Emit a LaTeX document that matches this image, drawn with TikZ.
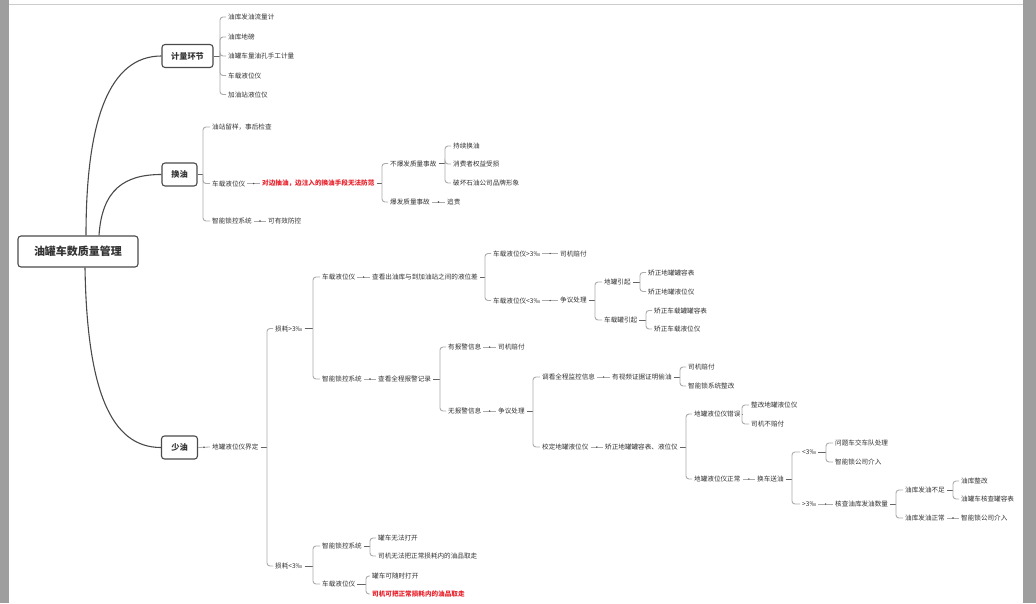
\documentclass[tikz,border=0pt]{standalone}
\usepackage{fontspec}
\setmainfont{Noto Sans CJK SC}
\usetikzlibrary{calc}
\definecolor{mmline}{HTML}{4A4A4A}
\definecolor{mmspine}{HTML}{ABABAB}
\definecolor{mmtext}{HTML}{333333}
\definecolor{mmred}{HTML}{E8202A}
\definecolor{mmframe}{HTML}{9E9E9E}
\tikzset{
  topic/.style={draw=mmline,fill=white,rounded corners=3pt,line width=1.1pt,font=\fontsize{8.2}{9}\selectfont\bfseries,text=mmtext,inner sep=0pt},
  leaf/.style={anchor=west,inner xsep=2pt,inner ysep=1pt,font=\fontsize{6.6}{7}\selectfont,text=mmtext},
  alert/.style={leaf,text=mmred,font=\fontsize{6.6}{7}\selectfont\bfseries},
  main/.style={draw=mmline,line width=1.1pt},
  trunk/.style={draw=mmline!85,line width=.6pt},
  spine/.style={draw=mmspine,line width=.9pt,rounded corners=3pt},
  thin/.style={draw=mmspine,line width=.8pt},
  dot/.style={circle,fill=mmline,inner sep=0pt,minimum size=1.6pt},
}
% parent -> spine at x -> children
\newcommand\fork[3]{%
  \coordinate (fk) at (#2,0);
  \draw[trunk] (#1.east) -- (#1.east -| fk);
  \foreach \kid in {#3} \draw[spine] (#1.east -| fk) |- (\kid.west);
}
% one parent, one child
\newcommand\link[2]{\draw[thin] (#1.east) -- node[dot]{} (#2.west);}

\begin{document}
\begin{tikzpicture}[x=1pt,y=-1pt]
  \useasboundingbox (0,0) rectangle (1036,603);
  \fill[white] (0,0) rectangle (1036,603);
  \fill[mmframe] (0,0) rectangle (9,603);
  \fill[mmframe] (1023,0) rectangle (1036,603);
  \draw[black!20,line width=1pt] (9,4) -- (1023,4);

  % ---------------- main topics ----------------
  \node[topic,minimum width=120pt,minimum height=31pt,font=\fontsize{11}{12}\selectfont\bfseries] (root) at (78,251.5) {油罐车数质量管理};
  \node[topic,minimum width=51pt,minimum height=23pt] (jl) at (187.5,56) {计量环节};
  \node[topic,minimum width=35pt,minimum height=23pt] (hy) at (179.5,174.5) {换油};
  \node[topic,minimum width=36pt,minimum height=23pt] (sy) at (179.5,447.5) {少油};

  \draw[main] ([xshift=8pt]root.north) .. controls +(0,-116) and +(-52,0) .. (jl.west);
  \draw[main] ([xshift=21pt]root.north) .. controls +(3,-46) and +(-37,0) .. (hy.west);
  \draw[main] ([xshift=7pt]root.south) .. controls +(2,123) and +(-50,0) .. (sy.west);

  % ---------------- 计量环节 ----------------
  \node[leaf] (jl1) at (226,17) {油库发油流量计};
  \node[leaf] (jl2) at (226,37) {油库地磅};
  \node[leaf] (jl3) at (226,56) {油罐车量油孔手工计量};
  \node[leaf] (jl4) at (226,75.5) {车载液位仪};
  \node[leaf] (jl5) at (226,94.5) {加油站液位仪};
  \fork{jl}{220}{jl1,jl2,jl3,jl4,jl5}

  % ---------------- 换油 ----------------
  \node[leaf] (hy1) at (210,127) {油站留样，事后检查};
  \node[leaf] (hy2) at (210,183.5) {车载液位仪};
  \node[leaf] (hy3) at (210,221) {智能锁控系统};
  \fork{hy}{203}{hy1,hy2,hy3}
  \node[alert] (hy21) at (260,183.5) {对边抽油，边注入的换油手段无法防范};
  \link{hy2}{hy21}
  \node[leaf] (hy211) at (388,163.5) {不爆发质量事故};
  \node[leaf] (hy212) at (388,202) {爆发质量事故};
  \fork{hy21}{382}{hy211,hy212}
  \node[leaf] (hy2111) at (451,146) {持续换油};
  \node[leaf] (hy2112) at (451,164) {消费者权益受损};
  \node[leaf] (hy2113) at (451,183) {破坏石油公司品牌形象};
  \fork{hy211}{445}{hy2111,hy2112,hy2113}
  \node[leaf] (hy2121) at (445,202) {追责};
  \link{hy212}{hy2121}
  \node[leaf] (hy31) at (266,221) {可有效防控};
  \link{hy3}{hy31}

  % ---------------- 少油 ----------------
  \node[leaf] (sy1) at (210,447) {地罐液位仪界定};
  \link{sy}{sy1}
  \node[leaf] (sy11) at (273,328.5) {损耗>3‰};
  \node[leaf] (sy12) at (273,566) {损耗<3‰};
  \fork{sy1}{267}{sy11,sy12}

  % 损耗>3‰, 车载液位仪
  \node[leaf] (ld) at (320,277) {车载液位仪};
  \node[leaf] (lz) at (320,379) {智能锁控系统};
  \fork{sy11}{313}{ld,lz}
  \node[leaf] (ldc) at (370,277) {查看出油库与到加油站之间的液位差};
  \link{ld}{ldc}
  \node[leaf] (ldh) at (491,253.5) {车载液位仪>3‰};
  \node[leaf] (ldl) at (491,300.5) {车载液位仪<3‰};
  \fork{ldc}{485}{ldh,ldl}
  \node[leaf] (ldhp) at (558,253.5) {司机赔付};
  \link{ldh}{ldhp}
  \node[leaf] (ldld) at (558,300.5) {争议处理};
  \link{ldl}{ldld}
  \node[leaf] (dg) at (602,282) {地罐引起};
  \node[leaf] (cg) at (602,320) {车载罐引起};
  \fork{ldld}{595}{dg,cg}
  \node[leaf] (dg1) at (646,272.5) {矫正地罐罐容表};
  \node[leaf] (dg2) at (646,291.5) {矫正地罐液位仪};
  \fork{dg}{640}{dg1,dg2}
  \node[leaf] (cg1) at (652,310.5) {矫正车载罐罐容表};
  \node[leaf] (cg2) at (652,329) {矫正车载液位仪};
  \fork{cg}{646}{cg1,cg2}

  % 损耗>3‰, 智能锁控系统
  \node[leaf] (lzc) at (376,379) {查看全程报警记录};
  \link{lz}{lzc}
  \node[leaf] (bj) at (446,347) {有报警信息};
  \node[leaf] (nb) at (446,411) {无报警信息};
  \fork{lzc}{440}{bj,nb}
  \node[leaf] (bjp) at (496,347) {司机赔付};
  \link{bj}{bjp}
  \node[leaf] (nbd) at (496,411) {争议处理};
  \link{nb}{nbd}
  \node[leaf] (jk) at (540,377) {调看全程监控信息};
  \node[leaf] (jd) at (540,447) {校定地罐液位仪};
  \fork{nbd}{533}{jk,jd}
  \node[leaf] (jkv) at (610,377) {有视频证据证明偷油};
  \link{jk}{jkv}
  \node[leaf] (jkv1) at (686,367) {司机赔付};
  \node[leaf] (jkv2) at (686,386) {智能锁系统整改};
  \fork{jkv}{680}{jkv1,jkv2}
  \node[leaf] (jdr) at (603,447) {矫正地罐罐容表、液位仪};
  \link{jd}{jdr}
  \node[leaf] (dw) at (692,414) {地罐液位仪错误};
  \node[leaf] (dn) at (692,479) {地罐液位仪正常};
  \fork{jdr}{686}{dw,dn}
  \node[leaf] (dw1) at (749,405) {整改地罐液位仪};
  \node[leaf] (dw2) at (749,424) {司机不赔付};
  \fork{dw}{742}{dw1,dw2}
  \node[leaf] (dnh) at (755,479) {换车送油};
  \link{dn}{dnh}
  \node[leaf] (lt) at (800,452) {<3‰};
  \node[leaf] (gt) at (800,504) {>3‰};
  \fork{dnh}{792}{lt,gt}
  \node[leaf] (lt1) at (833,443) {问题车交车队处理};
  \node[leaf] (lt2) at (833,462) {智能锁公司介入};
  \fork{lt}{826}{lt1,lt2}
  \node[leaf] (gtc) at (833,504) {核查油库发油数量};
  \link{gt}{gtc}
  \node[leaf] (ku) at (903,490) {油库发油不足};
  \node[leaf] (kn) at (903,518) {油库发油正常};
  \fork{gtc}{896}{ku,kn}
  \node[leaf] (ku1) at (959,481) {油库整改};
  \node[leaf] (ku2) at (959,499) {油罐车核查罐容表};
  \fork{ku}{953}{ku1,ku2}
  \node[leaf] (kn1) at (959,518) {智能锁公司介入};
  \link{kn}{kn1}

  % 损耗<3‰
  \node[leaf] (xz) at (320,546) {智能锁控系统};
  \node[leaf] (xd) at (320,584) {车载液位仪};
  \fork{sy12}{313}{xz,xd}
  \node[leaf] (xz1) at (376,538) {罐车无法打开};
  \node[leaf] (xz2) at (376,556) {司机无法把正常损耗内的油品取走};
  \fork{xz}{370}{xz1,xz2}
  \node[leaf] (xd1) at (370,576) {罐车可随时打开};
  \node[alert] (xd2) at (370,594) {司机可把正常损耗内的油品取走};
  \fork{xd}{366}{xd1,xd2}
\end{tikzpicture}
\end{document}
